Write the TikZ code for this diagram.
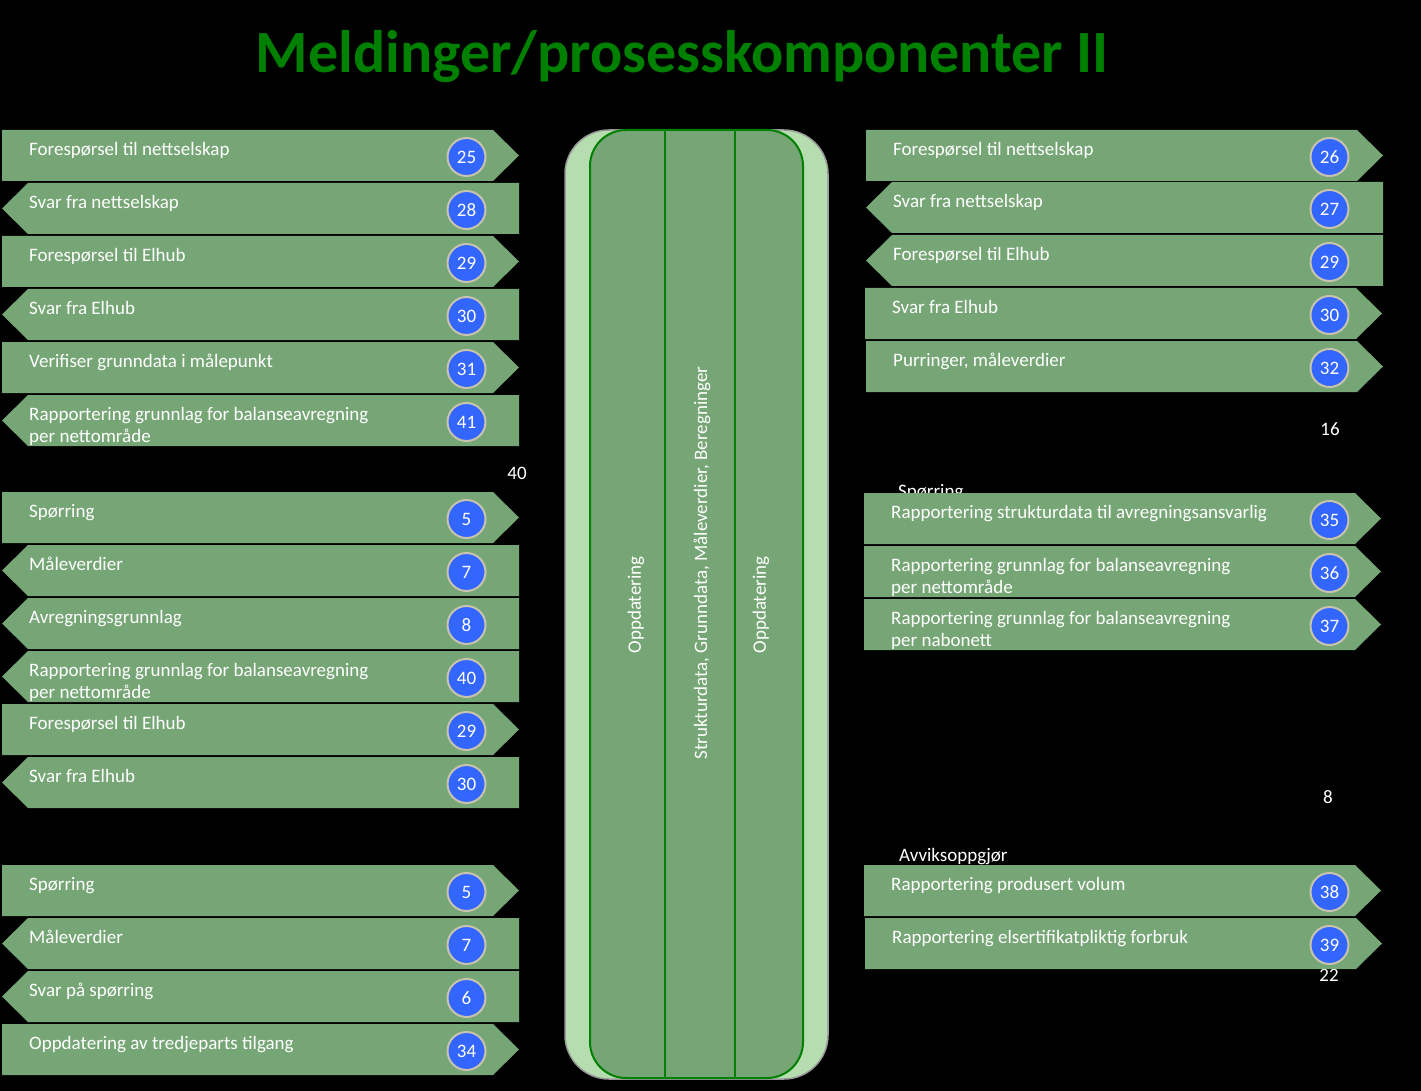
\documentclass[tikz,border=0pt]{standalone}
\usepackage{fontspec}
\setmainfont{Carlito}
\usepackage{tikz}

\definecolor{msggreen}{RGB}{118,166,117}
\definecolor{palegreen}{RGB}{181,221,176}
\definecolor{linegreen}{RGB}{0,128,0}
\definecolor{badgeblue}{RGB}{51,102,255}
\definecolor{badgering}{RGB}{200,195,175}

\begin{document}
\begin{tikzpicture}[x=1pt,y=-1pt,
  msg/.style={anchor=north west,inner sep=0pt,text=white,align=left,font=\fontsize{19}{22}\selectfont},
  badge/.style={circle,fill=badgeblue,draw=badgering,line width=2pt,minimum size=38pt,inner sep=0pt,text=white,font=\fontsize{19}{20}\selectfont},
  note/.style={inner sep=0pt,text=white,font=\fontsize{19}{20}\selectfont},
  vtext/.style={rotate=90,inner sep=0pt,text=white,font=\fontsize{19}{20}\selectfont}]
  \fill[black] (0,0) rectangle (1421,1091);
  \useasboundingbox (0,0) rectangle (1421,1091);

  \node[text=linegreen,font=\fontsize{60}{64}\selectfont\bfseries] (titel) at (682,57) {Meldinger/prosesskomponenter II};

  % half hidden texts behind the messages
  \node[note] (n40) at (517,473) {40};
  \node[note] (n16) at (1330,429) {16};
  \node[note] (n8) at (1328,797) {8};
  \node[note] (n22) at (1329,975) {22};
  \node[msg] (sp) at (898,484) {Spørring};
  \node[msg] (avvik) at (899,848) {Avviksoppgjør};

  % middle column
  \draw[fill=palegreen,draw=gray!80,line width=1.5pt,rounded corners=44pt] (565,130) rectangle (828,1079);
  \draw[fill=msggreen,draw=linegreen,line width=2pt,rounded corners=36pt] (590,130) rectangle (803,1078);
  \draw[linegreen,line width=2pt] (665,130) -- (665,1078) (735,130) -- (735,1078);
  \node[vtext] (oppd1) at (636,605) {Oppdatering};
  \node[vtext] (data) at (702,563) {Strukturdata, Grunndata, Måleverdier, Beregninger};
  \node[vtext] (oppd2) at (761,605) {Oppdatering};

  % left messages: top / direction / number / text
  \foreach[count=\i] \y/\s/\n/\t in {
    130/1/25/{Forespørsel til nettselskap},
    183/-1/28/{Svar fra nettselskap},
    236/1/29/{Forespørsel til Elhub},
    289/-1/30/{Svar fra Elhub},
    342/1/31/{Verifiser grunndata i målepunkt},
    395/-1/41/{Rapportering grunnlag for balanseavregning\\per nettområde},
    492/1/5/{Spørring},
    545/-1/7/{Måleverdier},
    598/-1/8/{Avregningsgrunnlag},
    651/-1/40/{Rapportering grunnlag for balanseavregning\\per nettområde},
    704/1/29/{Forespørsel til Elhub},
    757/-1/30/{Svar fra Elhub},
    865/1/5/{Spørring},
    918/-1/7/{Måleverdier},
    971/-1/6/{Svar på spørring},
    1024/1/34/{Oppdatering av tredjeparts tilgang}}
  {
    \fill[msggreen] ({15-13*(\s)},\y) -- ({506-13*(\s)},\y) -- (519,{\y+25.5})
      -- ({506-13*(\s)},{\y+51}) -- ({15-13*(\s)},{\y+51}) -- (2,{\y+25.5}) -- cycle;
    \node[msg] (lm\i) at (29,\y+12) {\t};
    \node[badge] (lb\i) at (466.5,\y+27) {\n};
  }

  % right messages: shift / top / direction / number / text
  \foreach[count=\i] \x/\y/\s/\n/\t in {
    864/130/1/26/{Forespørsel til nettselskap},
    864/182/-1/27/{Svar fra nettselskap},
    864/235/-1/29/{Forespørsel til Elhub},
    863/288/1/30/{Svar fra Elhub},
    864/341/1/32/{Purringer, måleverdier},
    862/493/1/35/{Rapportering strukturdata til avregningsansvarlig},
    862/546/1/36/{Rapportering grunnlag for balanseavregning\\per nettområde},
    862/599/1/37/{Rapportering grunnlag for balanseavregning\\per nabonett},
    862/865/1/38/{Rapportering produsert volum},
    863/918/1/39/{Rapportering elsertifikatpliktig forbruk}}
  {
    \fill[msggreen] ({\x+15-13*(\s)},\y) -- ({\x+506-13*(\s)},\y) -- ({\x+519},{\y+25.5})
      -- ({\x+506-13*(\s)},{\y+51}) -- ({\x+15-13*(\s)},{\y+51}) -- ({\x+2},{\y+25.5}) -- cycle;
    \node[msg] (rm\i) at (\x+29,\y+12) {\t};
    \node[badge] (rb\i) at (1329.5,\y+27) {\n};
  }
\end{tikzpicture}
\end{document}
